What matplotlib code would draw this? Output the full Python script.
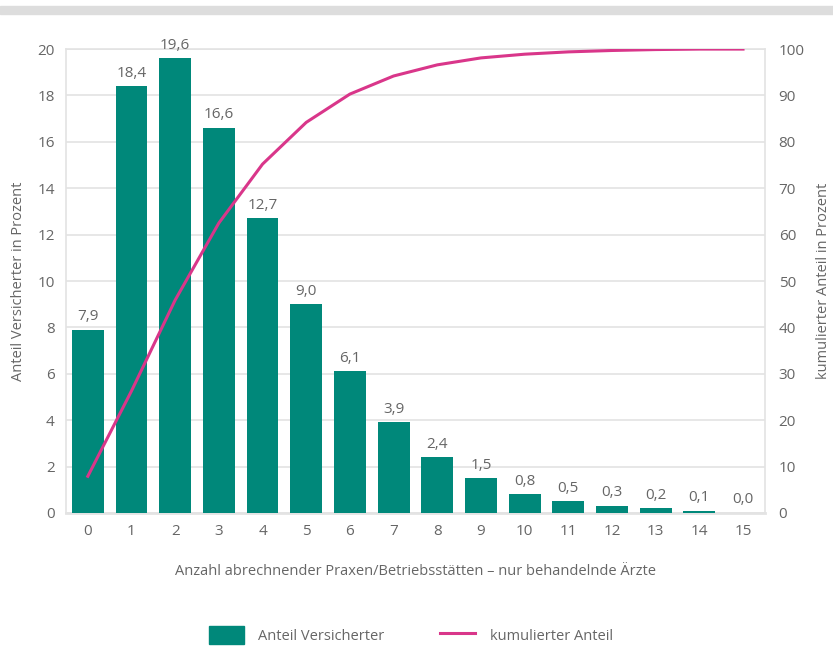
import numpy as np
import matplotlib.pyplot as plt
from matplotlib.patches import Rectangle

plt.rcParams['font.family'] = ['Open Sans', 'DejaVu Sans']

praxen = list(range(16))
anteil = [7.9, 18.4, 19.6, 16.6, 12.7, 9.0, 6.1, 3.9, 2.4, 1.5, 0.8, 0.5, 0.3, 0.2, 0.1, 0.0]
kumuliert = [7.9, 26.3, 45.9, 62.5, 75.2, 84.2, 90.3, 94.2, 96.6, 98.1, 98.9, 99.4, 99.7, 99.9, 100.0, 100.0]

teal = '#00887A'
pink = '#D9368A'
grey_txt = '#666666'
grid_col = '#E3E3E3'

fig = plt.figure(figsize=(8.33, 6.46), dpi=100)
ax = fig.add_axes([0.0792, 0.206, 0.839, 0.718])

# grey band on top
fig.patches.append(Rectangle((0, 0.978), 1, 0.013, transform=fig.transFigure,
                             color='#DDDDDD', zorder=0))

bars = ax.bar(praxen, anteil, width=0.73, color=teal, zorder=3)
for x, v in zip(praxen, anteil):
    ax.annotate(f'{v:.1f}'.replace('.', ','), (x, v), xytext=(0, 4),
                textcoords='offset points', ha='center', va='bottom',
                fontsize=11, color=grey_txt)

ax.set_xlim(-0.5, 15.5)
ax.set_ylim(0, 20)
ax.set_yticks(range(0, 21, 2))
ax.set_xticks(praxen)
ax.grid(axis='y', color=grid_col, linewidth=1.2, zorder=0)
ax.tick_params(length=0, labelsize=11, colors=grey_txt, pad=8)
for s in ax.spines.values():
    s.set_color(grid_col)
    s.set_linewidth(1.2)
ax.spines['bottom'].set_linewidth(2)
ax.set_xlabel('Anzahl abrechnender Praxen/Betriebsstätten – nur behandelnde Ärzte',
              fontsize=10.5, color=grey_txt, labelpad=18)
ax.set_ylabel('Anteil Versicherter in Prozent', fontsize=10.5, color=grey_txt, labelpad=8)

ax2 = ax.twinx()
ax2.plot(praxen, kumuliert, color=pink, linewidth=2.2, zorder=4)
ax2.set_ylim(0, 100)
ax2.set_yticks(range(0, 101, 10))
ax2.tick_params(length=0, labelsize=11, colors=grey_txt, pad=10)
for s in ax2.spines.values():
    s.set_visible(False)
ax2.set_ylabel('kumulierter Anteil in Prozent', fontsize=10.5, color=grey_txt, labelpad=8)

handles = [Rectangle((0, 0), 1, 1, color=teal),
           plt.Line2D([0], [0], color=pink, linewidth=2.2)]
leg = fig.legend(handles, ['Anteil Versicherter', 'kumulierter Anteil'],
                 loc='center', bbox_to_anchor=(0.493, 0.017), ncol=2, frameon=False,
                 fontsize=10.5, handlelength=2.4, handleheight=1.5, columnspacing=3.8,
                 handletextpad=1.0)
for t in leg.get_texts():
    t.set_color(grey_txt)

fig.savefig('out.png', dpi=100)
